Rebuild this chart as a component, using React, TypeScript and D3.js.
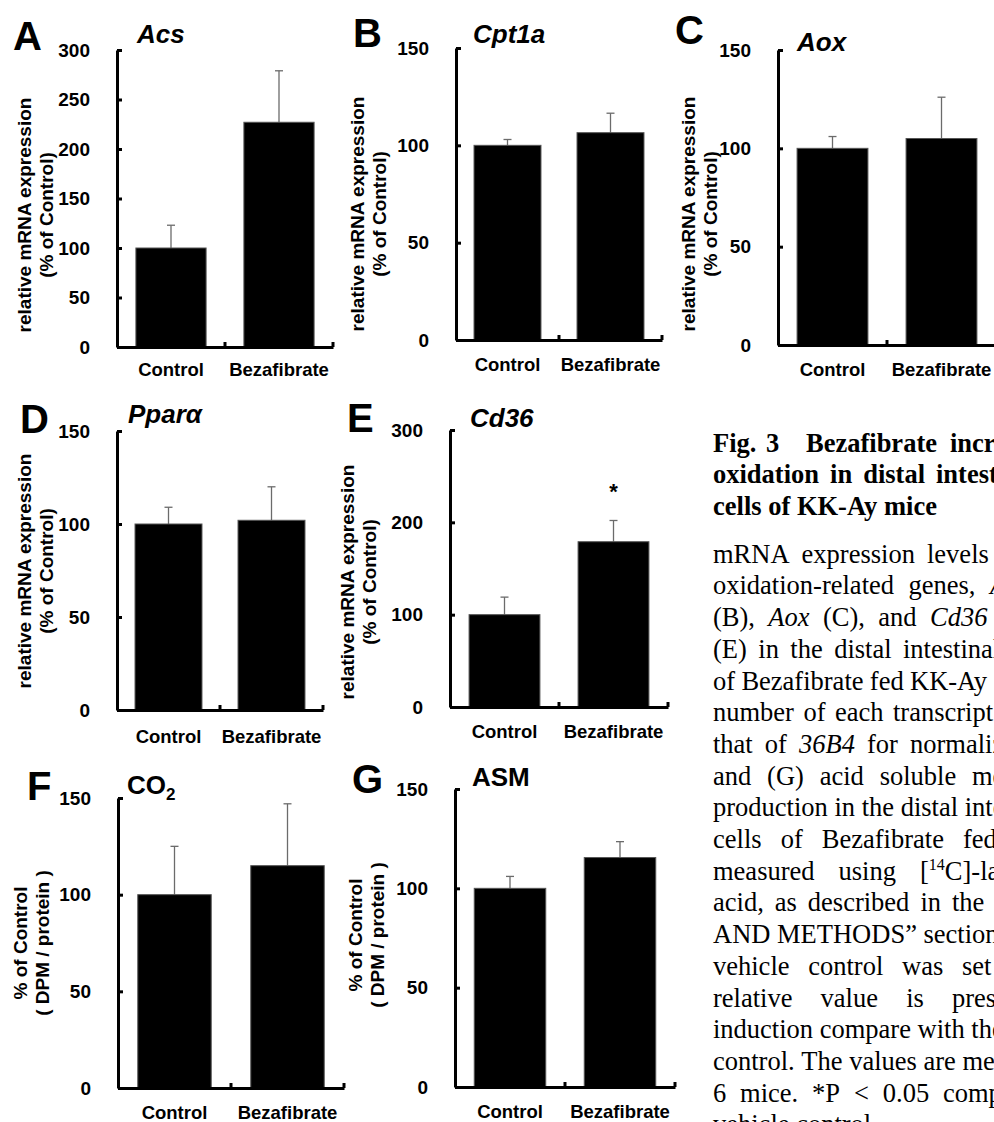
import React, { useEffect, useRef } from 'react';
import * as d3 from 'd3';

// values
const groups = ['Control', 'Bezafibrate'];
const panelLetters = ['A', 'B', 'C', 'D', 'E', 'F', 'G'];
const panelTitles = ['Acs', 'Cpt1a', 'Aox', 'Pparα', 'Cd36', 'CO', 'ASM'];
const titleSubscripts = ['', '', '', '', '', '2', ''];
const titleItalic = [true, true, true, true, true, false, false];
const meanValues = [
  [100, 227], [100, 106.5], [100, 105], [100, 102], [100, 179], [100, 115], [100, 115.5],
];
const errorValues = [
  [23, 52], [3, 10], [6, 21], [9, 18], [19, 23], [25, 32], [6, 8],
];
const yMaxValues = [300, 150, 150, 150, 300, 150, 150];
const yTickValues = [
  [0, 50, 100, 150, 200, 250, 300],
  [0, 50, 100, 150],
  [0, 50, 100, 150],
  [0, 50, 100, 150],
  [0, 100, 200, 300],
  [0, 50, 100, 150],
  [0, 50, 100, 150],
];
const significant = [
  [false, false], [false, false], [false, false], [false, false],
  [false, true], [false, false], [false, false],
];
const mrnaLabel = ['relative mRNA expression', '(% of Control)'];
const dpmLabel = ['% of Control', '( DPM / protein )'];
const yLabels = [mrnaLabel, mrnaLabel, mrnaLabel, mrnaLabel, mrnaLabel, dpmLabel, dpmLabel];

const captionTitle = [
  'Fig. 3 Bezafibrate increased',
  'oxidation in distal intestinal',
  'cells of KK-Ay mice',
];
const captionBody = [
  'mRNA expression levels',
  'oxidation-related genes, _Acs_',
  '(B), _Aox_ (C), and _Cd36_',
  '(E) in the distal intestinal',
  'of Bezafibrate fed KK-Ay',
  'number of each transcript',
  'that of _36B4_ for normalization',
  'and (G) acid soluble metabolite',
  'production in the distal intestinal',
  'cells of Bezafibrate fed',
  'measured using [^14^C]-labeled',
  'acid, as described in the',
  'AND METHODS” section',
  'vehicle control was set',
  'relative value is presented',
  'induction compare with the',
  'control. The values are mean',
  '6 mice. *P < 0.05 compared',
  'vehicle control',
];

// layout (pixels)
const SANS = "'Liberation Sans', Arial, sans-serif";
const SERIF = "'Liberation Serif', 'Times New Roman', serif";
const layout = [
  { x0: 117, x1: 333, yTop: 50, y0: 347, labelX: 25, labelY: 215, titleX: 137, titleY: 43, letterX: 13, letterY: 50, xGap: 29 },
  { x0: 456, x1: 662, yTop: 48, y0: 340, labelX: 358, labelY: 214, titleX: 473, titleY: 43, letterX: 353, letterY: 47, xGap: 31 },
  { x0: 778, x1: 996, yTop: 50, y0: 345, labelX: 689, labelY: 214, titleX: 797, titleY: 51, letterX: 675, letterY: 44, xGap: 31 },
  { x0: 117, x1: 323, yTop: 431, y0: 710, labelX: 25, labelY: 571, titleX: 128, titleY: 423, letterX: 20, letterY: 433, xGap: 33 },
  { x0: 450, x1: 668, yTop: 430, y0: 707, labelX: 348, labelY: 582, titleX: 470, titleY: 427, letterX: 347, letterY: 432, xGap: 31 },
  { x0: 118, x1: 344, yTop: 798, y0: 1088, labelX: 21, labelY: 943, titleX: 127, titleY: 794, letterX: 27, letterY: 800, xGap: 31 },
  { x0: 455, x1: 675, yTop: 789, y0: 1087, labelX: 356, labelY: 935, titleX: 472, titleY: 786, letterX: 352, letterY: 793, xGap: 31 },
];
const captionLeft = 713;
const captionSize = 26.5;
const titleBaselines = [451.7, 483.3, 515];
const bodyTop = 562.7;
const bodyStep = 31.7;
// explicit word x, last-word x (justified) or null (natural spacing)
const titleAnchors: (number[] | number | null)[] = [[713, 766, 806, 950], 936, null];
const bodyAnchors: (number | null)[] = [
  927, 990, 930, 903, 910, 893, 910, 972, null, 963, 920, 952, null, 962, 952, null, null, 943, null,
];

function drawPanel(svg, i) {
  const L = layout[i];
  const g = svg.append('g');

  const x = d3.scaleBand<string>().domain(groups).range([L.x0, L.x1]);
  const y = d3.scaleLinear().domain([0, yMaxValues[i]]).range([L.y0, L.yTop]);
  const bw = x.bandwidth() * 0.65;

  const rows = groups.map((name, j) => ({
    name, mean: meanValues[i][j], err: errorValues[i][j], star: significant[i][j],
  }));

  // error bars (behind bars)
  const eg = g.append('g').attr('stroke', '#6b6b6b').attr('stroke-width', 1.3);
  rows.forEach(d => {
    const cx = x(d.name)! + x.bandwidth() / 2;
    eg.append('line').attr('x1', cx).attr('x2', cx).attr('y1', y(d.mean)).attr('y2', y(d.mean + d.err));
    eg.append('line').attr('x1', cx - 4).attr('x2', cx + 4).attr('y1', y(d.mean + d.err)).attr('y2', y(d.mean + d.err));
  });

  // bars
  g.selectAll('rect.bar').data(rows).join('rect')
    .attr('class', 'bar')
    .attr('x', d => x(d.name)! + (x.bandwidth() - bw) / 2)
    .attr('y', d => y(d.mean))
    .attr('width', bw)
    .attr('height', d => y(0) - y(d.mean))
    .attr('fill', '#000')
    .attr('stroke', '#555')
    .attr('stroke-width', 1);

  // significance
  g.selectAll('text.star').data(rows.filter(d => d.star)).join('text')
    .attr('class', 'star')
    .attr('x', d => x(d.name)! + x.bandwidth() / 2)
    .attr('y', d => y(d.mean + d.err) - 21)
    .attr('text-anchor', 'middle')
    .attr('font-family', SANS).attr('font-weight', 'bold').attr('font-size', 22)
    .text('*');

  // y axis
  const yAxis = g.append('g')
    .attr('transform', `translate(${L.x0},0)`)
    .call(d3.axisLeft(y).tickValues(yTickValues[i]).tickSizeInner(-5).tickSizeOuter(0).tickPadding(27));
  yAxis.select('.domain').attr('stroke-width', 3).attr('stroke', '#000');
  yAxis.selectAll('.tick line').attr('stroke-width', 3).attr('stroke', '#000');
  yAxis.selectAll('.tick text')
    .attr('font-family', SANS).attr('font-weight', 'bold').attr('font-size', 19).attr('fill', '#000');

  // x axis
  const xAxis = g.append('g')
    .attr('transform', `translate(0,${L.y0})`)
    .call(d3.axisBottom(x).tickSize(0).tickPadding(L.xGap - 13));
  xAxis.select('.domain').attr('stroke-width', 3).attr('stroke', '#000');
  xAxis.selectAll('.tick text')
    .attr('font-family', SANS).attr('font-weight', 'bold').attr('font-size', 18.5).attr('fill', '#000');
  xAxis.selectAll('line.edge').data(groups).join('line')
    .attr('class', 'edge')
    .attr('x1', d => x(d)! + x.bandwidth()).attr('x2', d => x(d)! + x.bandwidth())
    .attr('y1', 0).attr('y2', -5)
    .attr('stroke', '#000').attr('stroke-width', 3);

  // y label (two lines, rotated)
  yLabels[i].forEach((line, k) => {
    g.append('text')
      .attr('transform', `translate(${L.labelX + 6 + k * 22},${L.labelY}) rotate(-90)`)
      .attr('text-anchor', 'middle')
      .attr('font-family', SANS).attr('font-weight', 'bold').attr('font-size', 19)
      .text(line);
  });

  // title
  const t = g.append('text')
    .attr('x', L.titleX).attr('y', L.titleY)
    .attr('font-family', SANS).attr('font-weight', 'bold').attr('font-size', 26)
    .attr('font-style', titleItalic[i] ? 'italic' : 'normal');
  t.append('tspan').text(panelTitles[i]);
  if (titleSubscripts[i]) {
    t.append('tspan').attr('font-size', 17).attr('dy', 6).text(titleSubscripts[i]);
  }

  // panel letter
  g.append('text')
    .attr('x', L.letterX).attr('y', L.letterY)
    .attr('font-family', SANS).attr('font-weight', 'bold').attr('font-size', 40)
    .text(panelLetters[i]);
}

function appendWord(parent, word, x, y, bold) {
  const t = parent.append('text')
    .attr('x', x).attr('y', y)
    .attr('font-family', SERIF).attr('font-size', captionSize)
    .attr('font-weight', bold ? 'bold' : 'normal');
  let raised = false;
  word.split(/(_[^_]+_|\^[^^]+\^)/).filter(Boolean).forEach(p => {
    if (p.startsWith('_')) {
      const s = t.append('tspan').attr('font-style', 'italic').text(p.slice(1, -1));
      if (raised) { s.attr('dy', 10); raised = false; }
    } else if (p.startsWith('^')) {
      t.append('tspan').attr('font-size', 16).attr('dy', -10).text(p.slice(1, -1));
      raised = true;
    } else {
      const s = t.append('tspan').text(p);
      if (raised) { s.attr('dy', 10); raised = false; }
    }
  });
  return t;
}

function drawCaptionLine(parent, line, baseline, bold, anchor) {
  const words = line.split(' ');
  const nodes = words.map(w => appendWord(parent, w, captionLeft, baseline, bold));
  const widths = nodes.map(n => (n.node() as SVGTextElement).getComputedTextLength());
  let xs: number[];
  if (Array.isArray(anchor)) {
    xs = anchor;
  } else if (typeof anchor === 'number' && words.length > 1) {
    const gap = (anchor - captionLeft - d3.sum(widths.slice(0, -1))) / (words.length - 1);
    xs = [];
    let cur = captionLeft;
    widths.forEach(w => { xs.push(cur); cur += w + gap; });
  } else {
    xs = [];
    let cur = captionLeft;
    widths.forEach(w => { xs.push(cur); cur += w + captionSize * 0.25; });
  }
  nodes.forEach((n, k) => n.attr('x', xs[k]));
}

function drawCaption(svg) {
  const g = svg.append('g').attr('fill', '#000');
  captionTitle.forEach((line, k) => drawCaptionLine(g, line, titleBaselines[k], true, titleAnchors[k]));
  captionBody.forEach((line, k) => drawCaptionLine(g, line, bodyTop + k * bodyStep, false, bodyAnchors[k]));
}

export default function App() {
  const ref = useRef<SVGSVGElement>(null);

  useEffect(() => {
    const svg = d3.select(ref.current);
    svg.selectAll('*').remove();
    panelLetters.forEach((_, i) => drawPanel(svg, i));
    drawCaption(svg);
  }, []);

  return (
    <svg
      ref={ref}
      width={994}
      height={1122}
      style={{ position: 'absolute', left: 0, top: 0, background: '#fff', display: 'block' }}
    />
  );
}
